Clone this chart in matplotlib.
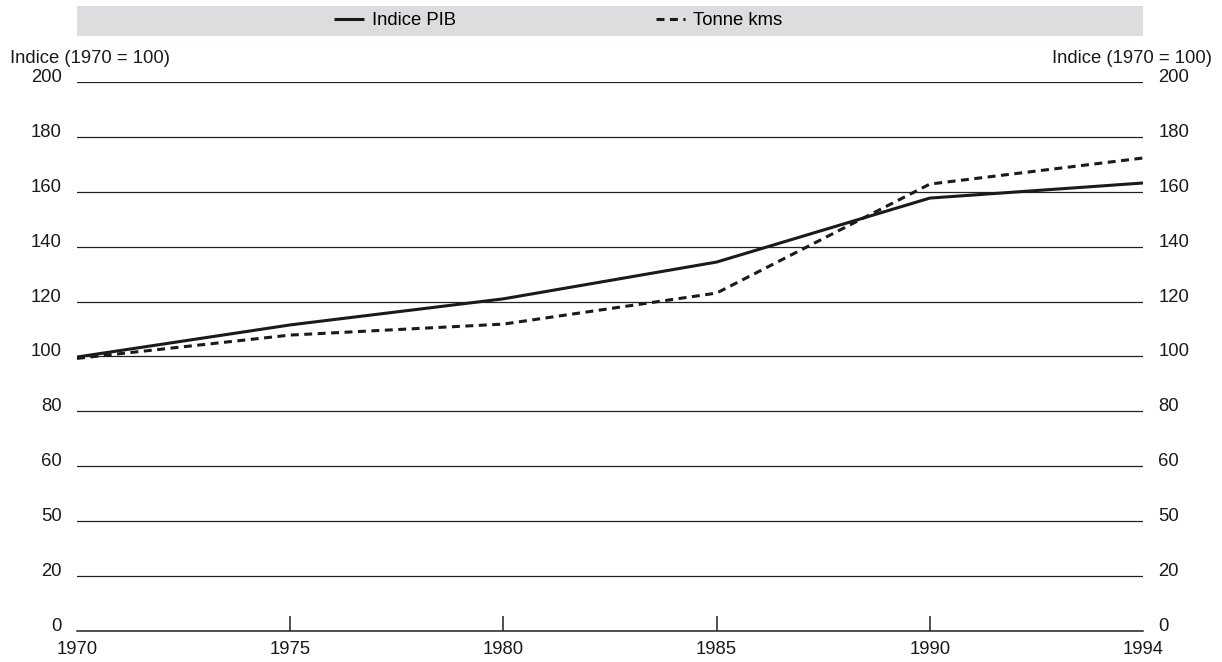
import matplotlib.pyplot as plt
from matplotlib.patches import Rectangle

plt.rcParams['font.family'] = ['Liberation Sans', 'DejaVu Sans']

# Data (years are evenly spaced on the axis)
years = ['1970', '1975', '1980', '1985', '1990', '1994']
pib = [99.8, 111.5, 121.0, 134.4, 157.7, 163.2]
tonne_kms = [99.3, 107.8, 111.8, 123.1, 162.8, 172.3]

ytick_pos = [0, 20, 40, 60, 80, 100, 120, 140, 160, 180, 200]
ytick_labels = ['0', '20', '50', '60', '80', '100', '120', '140', '160', '180', '200']

fs = 13.3
fig = plt.figure(figsize=(12.22, 6.62), dpi=100)
ax = fig.add_axes([0.063, 0.0468, 0.8724, 0.8294])

x = list(range(len(years)))
ax.plot(x, pib, color='#1a1a1a', lw=2.2, label='Indice PIB', solid_capstyle='butt')
ax.plot(x, tonne_kms, color='#1a1a1a', lw=2.2, ls=(0, (2.6, 1.8)), label='Tonne kms')

ax.set_xlim(0, len(years) - 1)
ax.set_ylim(0, 200)
ax.set_yticks(ytick_pos)
ax.set_yticklabels(ytick_labels)
ax.set_xticks(x)
ax.set_xticklabels(years)

ax.grid(axis='y', color='#222222', lw=0.9)
ax.set_axisbelow(True)
for s in ['top', 'left', 'right']:
    ax.spines[s].set_visible(False)
ax.spines['bottom'].set_color('#222222')
ax.spines['bottom'].set_linewidth(1.1)

ax.tick_params(axis='y', length=0, pad=11, labelsize=fs, colors='#1a1a1a',
               labelright=True, right=False)
ax.tick_params(axis='x', direction='in', length=11, width=1.1, color='#222222',
               pad=7, labelsize=fs, labelcolor='#1a1a1a')
ticks = ax.xaxis.get_major_ticks()
ticks[0].tick1line.set_visible(False)
ticks[-1].tick1line.set_visible(False)

# y labels sit on their grid line
for t in ax.yaxis.get_major_ticks():
    t.label1.set_va('baseline')
    t.label2.set_va('baseline')

# grey legend band
fig.patches.append(Rectangle((0.063, 0.9456), 0.8724, 0.0453, transform=fig.transFigure,
                             facecolor='#dcdddf', edgecolor='none', zorder=0))
fig.legend(loc='center', bbox_to_anchor=(0.457, 0.9685), ncol=2, frameon=False,
           fontsize=fs, handlelength=1.6, handletextpad=0.45, columnspacing=10.8)

fig.text(0.008, 0.912, 'Indice (1970 = 100)', ha='left', va='center', fontsize=fs, color='#1a1a1a')
fig.text(0.992, 0.912, 'Indice (1970 = 100)', ha='right', va='center', fontsize=fs, color='#1a1a1a')

fig.savefig('out.png', dpi=100)
